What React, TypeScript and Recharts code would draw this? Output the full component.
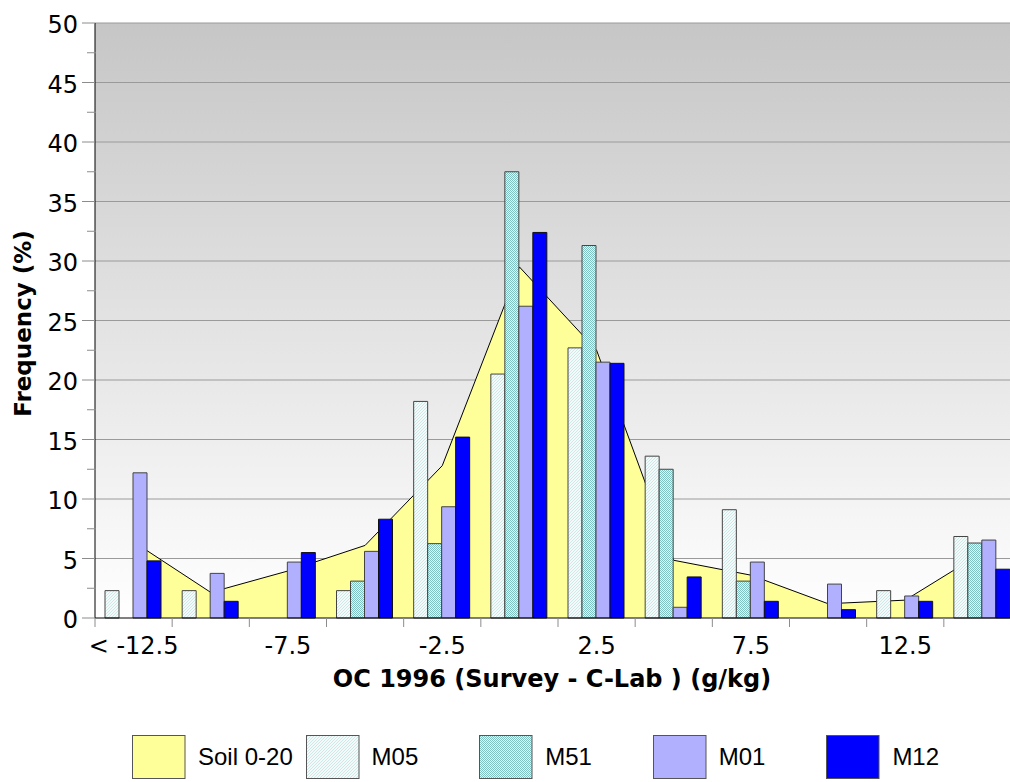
import React from "react";
import {
  Area,
  Bar,
  CartesianGrid,
  ComposedChart,
  Legend,
  XAxis,
  YAxis,
} from "recharts";

// class limits, OC 1996 (Survey - C-Lab), g/kg
const categories = [
  "< -12.5",
  "-10",
  "-7.5",
  "-5",
  "-2.5",
  "0",
  "2.5",
  "5",
  "7.5",
  "10",
  "12.5",
  "> 12.5",
];

// frequencies in %
const soil = [6.4, 2.15, 3.95, 6.1, 12.8, 29.5, 22.5, 4.85, 3.6, 1.2, 1.5, 5.5];
const m05 = [2.3, 2.3, 0, 2.3, 18.2, 20.5, 22.7, 13.6, 9.1, 0, 2.3, 6.85];
const m51 = [0, 0, 0, 3.1, 6.25, 37.5, 31.3, 12.5, 3.1, 0, 0, 6.3];
const m01 = [12.2, 3.75, 4.7, 5.6, 9.35, 26.2, 21.5, 0.9, 4.7, 2.85, 1.85, 6.55];
const m12 = [4.8, 1.4, 5.5, 8.3, 15.2, 32.4, 21.4, 3.45, 1.4, 0.7, 1.4, 4.1];

const yTicks = [
  0, 2.5, 5, 7.5, 10, 12.5, 15, 17.5, 20, 22.5, 25, 27.5, 30, 32.5, 35, 37.5,
  40, 42.5, 45, 47.5, 50,
];
const gridValues = [5, 10, 15, 20, 25, 30, 35, 40, 45, 50];

const legendItems = [
  { key: "soil", name: "Soil 0-20" },
  { key: "m05", name: "M05" },
  { key: "m51", name: "M51" },
  { key: "m01", name: "M01" },
  { key: "m12", name: "M12" },
];

const data = categories.map((cat, i) => ({
  cat,
  soil: soil[i],
  m05: m05[i],
  m51: m51[i],
  m01: m01[i],
  m12: m12[i],
}));

const CHART_W = 1030;
const CHART_H = 782;
const Y_AXIS_W = 95;
const RIGHT = 9;
const BAND = (CHART_W - Y_AXIS_W - RIGHT) / categories.length;

const TICK_FONT = "'DejaVu Sans', sans-serif";
const LEGEND_FONT = "'Liberation Sans', Arial, sans-serif";

function Patterns({ prefix }: { prefix: string }) {
  return (
    <>
      <pattern
        id={`${prefix}M05`}
        width="3"
        height="3"
        patternUnits="userSpaceOnUse"
      >
        <rect width="3" height="3" fill="#F4FAFA" />
        <path
          d="M0,3 L3,0 M-1,1 L1,-1 M2,4 L4,2"
          stroke="#B4DADA"
          strokeWidth="0.6"
        />
      </pattern>
      <pattern
        id={`${prefix}M51`}
        width="2"
        height="2"
        patternUnits="userSpaceOnUse"
      >
        <rect width="2" height="2" fill="#E6F4F4" />
        <rect width="1" height="1" fill="#80C2C2" />
        <rect x="1" y="1" width="1" height="1" fill="#80C2C2" />
      </pattern>
    </>
  );
}

const fills: Record<string, (p: string) => string> = {
  soil: () => "#FFFF99",
  m05: (p) => `url(#${p}M05)`,
  m51: (p) => `url(#${p}M51)`,
  m01: () => "#B0B0FF",
  m12: () => "#0000FF",
};

function XTick(props: any) {
  const { x, y, index, payload } = props;
  const base = y - 9;
  const left = x - BAND / 2;
  return (
    <g>
      <line x1={left} x2={left} y1={base} y2={base + 9} stroke="#8C8C8C" />
      {index === categories.length - 1 && (
        <line
          x1={left + BAND}
          x2={left + BAND}
          y1={base}
          y2={base + 9}
          stroke="#8C8C8C"
        />
      )}
      {index % 2 === 0 && (
        <text
          x={x}
          y={base + 36}
          textAnchor="middle"
          fontFamily={TICK_FONT}
          fontSize={24}
          fill="#000"
        >
          {payload.value}
        </text>
      )}
    </g>
  );
}

function YTick(props: any) {
  const { x, y, payload } = props;
  const v = payload.value as number;
  const axisX = x + 17;
  const major = v % 5 === 0;
  return (
    <g>
      {major ? (
        <line x1={axisX - 13} x2={axisX} y1={y} y2={y} stroke="#8C8C8C" />
      ) : (
        <line x1={axisX - 8} x2={axisX + 1} y1={y} y2={y} stroke="#8C8C8C" />
      )}
      {major && (
        <text
          x={x}
          y={y + 10}
          textAnchor="end"
          fontFamily={TICK_FONT}
          fontSize={24}
          fill="#000"
        >
          {v}
        </text>
      )}
    </g>
  );
}

function LegendContent() {
  return (
    <div
      style={{
        display: "flex",
        height: 44,
        paddingLeft: 132,
        boxSizing: "border-box",
      }}
    >
      {legendItems.map((item) => (
        <div
          key={item.key}
          style={{ width: 173.6, display: "flex", alignItems: "center" }}
        >
          <svg width={54} height={44} style={{ display: "block" }}>
            <defs>
              <Patterns prefix="lg" />
            </defs>
            <rect
              x={0.5}
              y={0.5}
              width={52.5}
              height={43}
              fill={fills[item.key]("lg")}
              stroke="#555"
            />
          </svg>
          <span
            style={{
              marginLeft: 12,
              fontFamily: LEGEND_FONT,
              fontSize: 24,
              color: "#000",
              lineHeight: "44px",
            }}
          >
            {item.name}
          </span>
        </div>
      ))}
    </div>
  );
}

export default function App() {
  return (
    <div
      style={{
        position: "absolute",
        left: 0,
        top: 0,
        width: 1010,
        height: CHART_H,
        overflow: "hidden",
        background: "#fff",
      }}
    >
      <ComposedChart
        width={CHART_W}
        height={CHART_H}
        data={data}
        margin={{ top: 23, right: RIGHT, left: 0, bottom: 45 }}
        barCategoryGap={10}
        barGap={0}
      >
        <defs>
          <linearGradient id="plotBg" x1="0" y1="0" x2="0" y2="1">
            <stop offset="0%" stopColor="#C6C6C6" />
            <stop offset="100%" stopColor="#FFFFFF" />
          </linearGradient>
          <Patterns prefix="ch" />
        </defs>
        <CartesianGrid
          vertical={false}
          horizontalValues={gridValues}
          stroke="#9A9A9A"
          fill="url(#plotBg)"
          fillOpacity={1}
        />
        <XAxis
          dataKey="cat"
          height={75}
          interval={0}
          tickSize={9}
          tickMargin={0}
          tickLine={false}
          tick={<XTick />}
          axisLine={{ stroke: "#000" }}
          label={{
            content: (p: any) => {
              const vb = p.viewBox;
              return (
                <text
                  x={vb.x + vb.width / 2 - 6}
                  y={vb.y + 69}
                  textAnchor="middle"
                  fontFamily={TICK_FONT}
                  fontWeight="bold"
                  fontSize={24}
                  fill="#000"
                >
                  OC 1996 (Survey - C-Lab ) (g/kg)
                </text>
              );
            },
          }}
        />
        <YAxis
          width={Y_AXIS_W}
          domain={[0, 50]}
          ticks={yTicks}
          interval={0}
          tickSize={13}
          tickMargin={4}
          tickLine={false}
          tick={<YTick />}
          axisLine={{ stroke: "#000" }}
          label={{
            content: (p: any) => {
              const vb = p.viewBox;
              return (
                <text
                  transform={`translate(${vb.x + 23}, ${
                    vb.y + vb.height / 2 + 3
                  }) rotate(-90)`}
                  textAnchor="middle"
                  dominantBaseline="central"
                  fontFamily={TICK_FONT}
                  fontWeight="bold"
                  fontSize={23}
                  fill="#000"
                >
                  Frequency (%)
                </text>
              );
            },
          }}
        />
        <Area
          type="linear"
          dataKey="soil"
          name="Soil 0-20"
          fill="#FFFF99"
          fillOpacity={1}
          stroke="#000"
          strokeWidth={1}
          dot={false}
          isAnimationActive={false}
        />
        <Bar
          dataKey="m05"
          name="M05"
          fill="url(#chM05)"
          stroke="#444"
          strokeWidth={1}
          isAnimationActive={false}
        />
        <Bar
          dataKey="m51"
          name="M51"
          fill="url(#chM51)"
          stroke="#444"
          strokeWidth={1}
          isAnimationActive={false}
        />
        <Bar
          dataKey="m01"
          name="M01"
          fill="#B0B0FF"
          stroke="#444"
          strokeWidth={1}
          isAnimationActive={false}
        />
        <Bar
          dataKey="m12"
          name="M12"
          fill="#0000FF"
          stroke="#111"
          strokeWidth={1}
          isAnimationActive={false}
        />
        <Legend
          verticalAlign="bottom"
          content={<LegendContent />}
          wrapperStyle={{ top: 735, left: 0, width: 1010, height: 44 }}
        />
      </ComposedChart>
    </div>
  );
}
